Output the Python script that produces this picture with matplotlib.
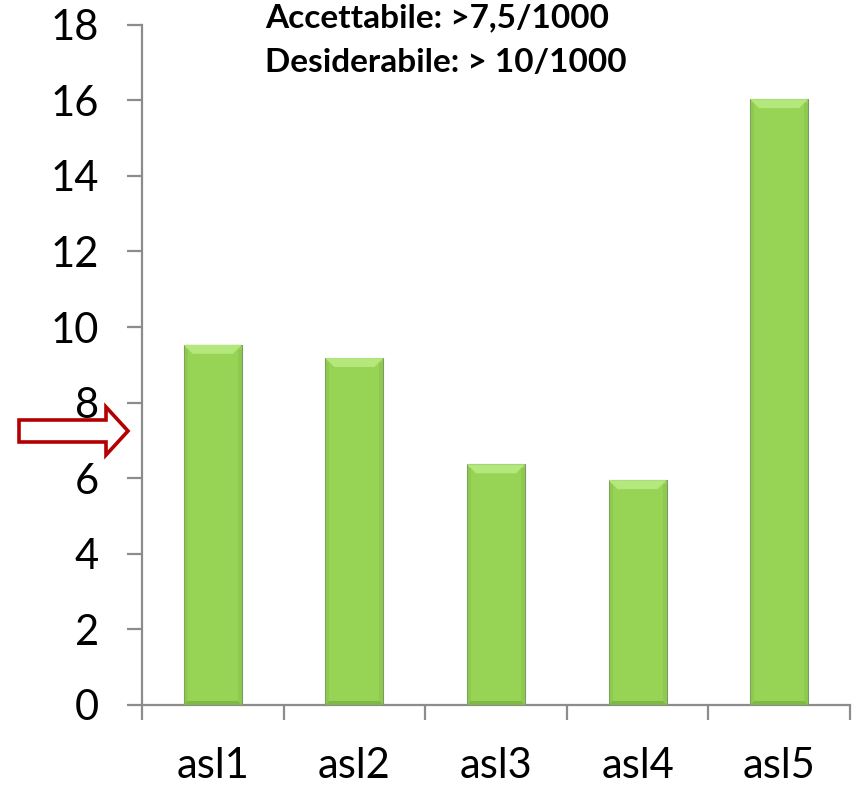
import matplotlib.pyplot as plt
import matplotlib.transforms as mtransforms
from matplotlib.patches import Polygon

# Data
categories = ['asl1', 'asl2', 'asl3', 'asl4', 'asl5']
values = [9.53, 9.18, 6.37, 5.95, 16.03]
threshold = 7.25        # arrow marker on the y axis
notes = ['Accettabile: >7,5/1000', 'Desiderabile: > 10/1000']

plt.rcParams['font.family'] = ['Lato', 'DejaVu Sans']

DPI = 100
fig = plt.figure(figsize=(8.55, 7.87), dpi=DPI)
ax = fig.add_axes([142/855, 82/787, 708/855, (705-24.7)/787])

AXIS_GREY = '#8c8c8c'
BAR_GREEN = '#97d455'
BAR_LIGHT = '#b4e77c'
BAR_DARK = '#7fb845'

x = list(range(1, len(categories) + 1))
bar_w = 0.41
bars = ax.bar(x, values, width=bar_w, color=BAR_GREEN,
              edgecolor='#7d9a66', linewidth=0.8, zorder=3)

ax.set_xlim(0.5, len(categories) + 0.5)
ax.set_ylim(0, 18)
ax.set_yticks(range(0, 19, 2))

# bevel on each bar: light top face, darker rim on sides and bottom
px_x = 1.0 / 141.6     # data x per pixel
px_y = 1.0 / 37.8      # data y per pixel
for rect in bars:
    x0 = rect.get_x()
    x1 = x0 + rect.get_width()
    h = rect.get_height()
    b = 9
    top = Polygon([(x0, h), (x1, h), (x1 - b*px_x, h - b*px_y), (x0 + b*px_x, h - b*px_y)],
                  closed=True, facecolor=BAR_LIGHT, edgecolor='none', zorder=4)
    ax.add_patch(top)
    bottom = Polygon([(x0, 0), (x1, 0), (x1 - 4*px_x, 4*px_y), (x0 + 4*px_x, 4*px_y)],
                     closed=True, facecolor=BAR_DARK, edgecolor='none', zorder=4)
    ax.add_patch(bottom)
    for xs in [(x0, x0 + 4*px_x), (x1 - 4*px_x, x1)]:
        ax.add_patch(Polygon([(xs[0], 0), (xs[1], 0), (xs[1], h - 4*px_y), (xs[0], h - 4*px_y)],
                             closed=True, facecolor=BAR_DARK, edgecolor='none',
                             alpha=0.35, zorder=4))

# spines and ticks
for side in ['top', 'right']:
    ax.spines[side].set_visible(False)
for side in ['left', 'bottom']:
    ax.spines[side].set_color(AXIS_GREY)
    ax.spines[side].set_linewidth(1.6)

ax.tick_params(axis='y', length=11, width=1.6, color=AXIS_GREY, pad=20,
               labelsize=30, labelcolor='black')
ax.set_xticks([i + 0.5 for i in range(0, len(categories) + 1)])
ax.set_xticklabels([])
ax.tick_params(axis='x', which='major', length=11, width=1.6, color=AXIS_GREY)
ax.set_xticks(x, minor=True)
ax.set_xticklabels(categories, minor=True)
ax.tick_params(axis='x', which='minor', length=0, pad=30, labelsize=30, labelcolor='black')

# hollow arrow pointing at the threshold level, left of the axis
anchor = mtransforms.ScaledTranslation(0, threshold,
                                       mtransforms.blended_transform_factory(ax.transAxes, ax.transData))
arrow_tr = fig.dpi_scale_trans + anchor
pts = [(-14, 0), (-36, 24), (-36, 11), (-123, 11), (-123, -11), (-36, -11), (-36, -24)]
arrow = Polygon([(px/DPI, py/DPI) for px, py in pts], closed=True, transform=arrow_tr,
                facecolor='white', edgecolor='#b30000', linewidth=2.6, clip_on=False, zorder=5)
fig.add_artist(arrow)

# target notes at the top
for i, line in enumerate(notes):
    fig.text(265/855, 1 - (27 + 45*i)/787, line, fontsize=24, fontweight='bold',
             ha='left', va='baseline')

fig.savefig('out.png', dpi=DPI)
